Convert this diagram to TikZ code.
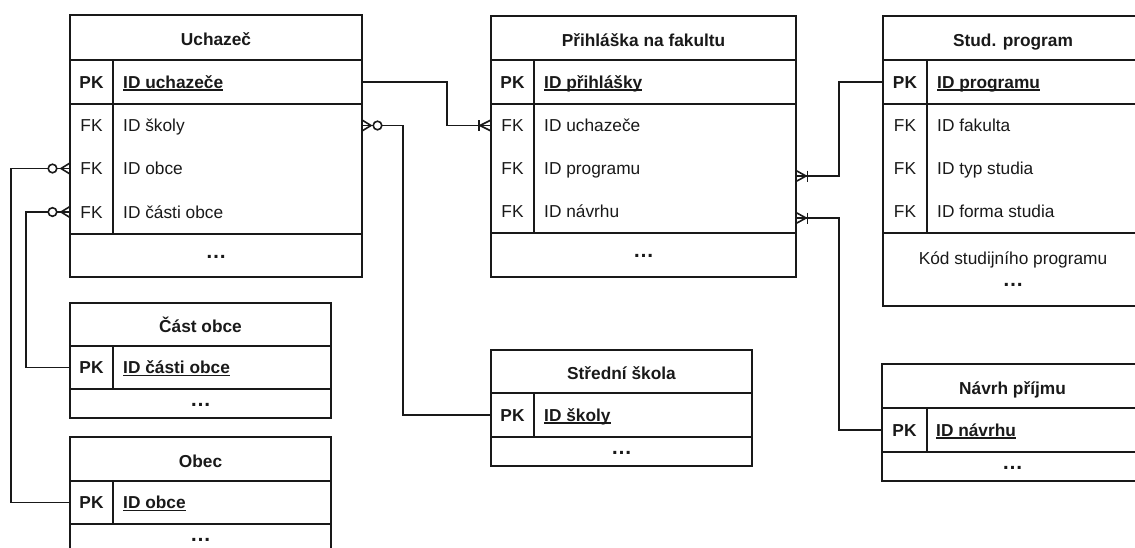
\documentclass[tikz,border=0pt]{standalone}
\usepackage{fontspec}
\setmainfont{Liberation Sans}
\newcommand\pkul[1]{\setbox0\hbox{#1}\rlap{\rule[-2.6pt]{\wd0}{1.5pt}}\box0}
\begin{document}
\begin{tikzpicture}[x=1pt,y=-1pt,
 frame/.style={draw=black!90, line width=1.6pt, inner sep=0pt, outer sep=0pt},
 conn/.style={draw=black!90, line width=1.6pt},
 rowbox/.style={inner sep=0pt, outer sep=0pt},
 every node/.style={font=\fontsize{17.3pt}{20pt}\selectfont, text=black!90},
 title/.style={font=\fontsize{17.3pt}{20pt}\selectfont\bfseries, text height=16.4pt, text depth=0pt},
 keytxt/.style={inner sep=0pt, text height=12.4pt, text depth=0pt},
 pkkey/.style={keytxt, font=\fontsize{17.3pt}{20pt}\selectfont\bfseries},
 attr/.style={keytxt, anchor=west},
 pkattr/.style={attr, font=\fontsize{17.3pt}{20pt}\selectfont\bfseries},
 dotstxt/.style={inner sep=0pt, font=\fontsize{21pt}{24pt}\selectfont\bfseries, text height=5pt, text depth=0pt}
]
\useasboundingbox (0,0) rectangle (1135,547);
\clip (0,0) rectangle (1135,547);

% ---------- Uchazec ----------
\node[frame,title,minimum width=292pt,minimum height=45pt] (uHead) at (216,37.5) {Uchazeč};
\node[frame,minimum width=292pt,minimum height=44pt] (uPK) at (216,82) {};
\node[frame,minimum width=292pt,minimum height=130pt] (uFK) at (216,169) {};
\node[frame,dotstxt,minimum width=292pt,minimum height=43pt] (uDots) at (216,255.5) {…};
\draw[conn] ([xshift=43pt]uPK.north west) -- ([xshift=43pt]uFK.south west);
\node[rowbox,minimum width=292pt,minimum height=43pt] (uR1) at (216,125.5) {};
\node[rowbox,minimum width=292pt,minimum height=43pt] (uR2) at (216,168.5) {};
\node[rowbox,minimum width=292pt,minimum height=43pt] (uR3) at (216,212) {};
\node[pkkey] (uPKk) at (91.5,82) {PK};
\node[pkattr] (uPKn) at (123,82) {\pkul{ID uchazeče}};
\node[keytxt] (uK1) at (91.5,125.5) {FK};
\node[attr] (uA1) at (123,125.5) {ID školy};
\node[keytxt] (uK2) at (91.5,168.5) {FK};
\node[attr] (uA2) at (123,168.5) {ID obce};
\node[keytxt] (uK3) at (91.5,212) {FK};
\node[attr] (uA3) at (123,212) {ID části obce};

% ---------- Prihlaska ----------
\node[frame,title,minimum width=305pt,minimum height=44pt] (pHead) at (643.5,38) {Přihláška na fakultu};
\node[frame,minimum width=305pt,minimum height=44pt] (pPK) at (643.5,82) {};
\node[frame,minimum width=305pt,minimum height=129pt] (pFK) at (643.5,168.5) {};
\node[frame,dotstxt,minimum width=305pt,minimum height=44pt] (pDots) at (643.5,255) {…};
\draw[conn] ([xshift=43pt]pPK.north west) -- ([xshift=43pt]pFK.south west);
\node[rowbox,minimum width=305pt,minimum height=43pt] (pR1) at (643.5,125.5) {};
\node[rowbox,minimum width=305pt,minimum height=43pt] (pR2) at (643.5,168.5) {};
\node[rowbox,minimum width=305pt,minimum height=43pt] (pR3) at (643.5,211.5) {};
\node[pkkey] (pPKk) at (512.5,82) {PK};
\node[pkattr] (pPKn) at (544,82) {\pkul{ID přihlášky}};
\node[keytxt] (pK1) at (512.5,125.5) {FK};
\node[attr] (pA1) at (544,125.5) {ID uchazeče};
\node[keytxt] (pK2) at (512.5,168.5) {FK};
\node[attr] (pA2) at (544,168.5) {ID programu};
\node[keytxt] (pK3) at (512.5,211.5) {FK};
\node[attr] (pA3) at (544,211.5) {ID návrhu};

% ---------- Stud. program ----------
\node[frame,title,minimum width=260pt,minimum height=44pt] (sdHead) at (1013,38) {Stud. program};
\node[frame,minimum width=260pt,minimum height=44pt] (sdPK) at (1013,82) {};
\node[frame,minimum width=260pt,minimum height=129pt] (sdFK) at (1013,168.5) {};
\node[frame,minimum width=260pt,minimum height=73pt] (sdBot) at (1013,269.5) {};
\draw[conn] ([xshift=44pt]sdPK.north west) -- ([xshift=44pt]sdFK.south west);
\node[pkkey] (sdPKk) at (905,82) {PK};
\node[pkattr] (sdPKn) at (937,82) {\pkul{ID programu}};
\node[keytxt] (sdK1) at (905,125.5) {FK};
\node[attr] (sdA1) at (937,125.5) {ID fakulta};
\node[keytxt] (sdK2) at (905,168.5) {FK};
\node[attr] (sdA2) at (937,168.5) {ID typ studia};
\node[keytxt] (sdK3) at (905,211.5) {FK};
\node[attr] (sdA3) at (937,211.5) {ID forma studia};
\node[keytxt] (sdKod) at (1013,258) {Kód studijního programu};
\node[dotstxt] (sdDots) at (1013,284) {…};

% ---------- Cast obce ----------
\node[frame,title,minimum width=261pt,minimum height=43pt] (cHead) at (200.5,324.5) {Část obce};
\node[frame,minimum width=261pt,minimum height=43pt] (cPK) at (200.5,367.5) {};
\node[frame,dotstxt,minimum width=261pt,minimum height=29pt] (cDots) at (200.5,403.5) {…};
\draw[conn] ([xshift=43pt]cPK.north west) -- ([xshift=43pt]cPK.south west);
\node[pkkey] (cPKk) at (91.5,367.5) {PK};
\node[pkattr] (cPKn) at (123,367.5) {\pkul{ID části obce}};

% ---------- Obec ----------
\node[frame,title,minimum width=261pt,minimum height=44pt] (oHead) at (200.5,459) {Obec};
\node[frame,minimum width=261pt,minimum height=43pt] (oPK) at (200.5,502.5) {};
\node[frame,dotstxt,minimum width=261pt,minimum height=29pt] (oDots) at (200.5,538.5) {…};
\draw[conn] ([xshift=43pt]oPK.north west) -- ([xshift=43pt]oPK.south west);
\node[pkkey] (oPKk) at (91.5,502.5) {PK};
\node[pkattr] (oPKn) at (123,502.5) {\pkul{ID obce}};

% ---------- Stredni skola ----------
\node[frame,title,minimum width=261pt,minimum height=43pt] (stHead) at (621.5,371.5) {Střední škola};
\node[frame,minimum width=261pt,minimum height=44pt] (stPK) at (621.5,415) {};
\node[frame,dotstxt,minimum width=261pt,minimum height=29pt] (stDots) at (621.5,451.5) {…};
\draw[conn] ([xshift=43pt]stPK.north west) -- ([xshift=43pt]stPK.south west);
\node[pkkey] (stPKk) at (512.5,415) {PK};
\node[pkattr] (stPKn) at (544,415) {\pkul{ID školy}};

% ---------- Navrh prijmu ----------
\node[frame,title,minimum width=261pt,minimum height=44pt] (nHead) at (1012.5,386) {Návrh příjmu};
\node[frame,minimum width=261pt,minimum height=44pt] (nPK) at (1012.5,430) {};
\node[frame,dotstxt,minimum width=261pt,minimum height=29pt] (nDots) at (1012.5,466.5) {…};
\draw[conn] ([xshift=45pt]nPK.north west) -- ([xshift=45pt]nPK.south west);
\node[pkkey] (nPKk) at (904.5,430) {PK};
\node[pkattr] (nPKn) at (936,430) {\pkul{ID návrhu}};

% ---------- connectors ----------
% Uchazec PK -> Prihlaska ID uchazece
\draw[conn] (uPK.east) -- ++(85,0) |- (pR1.west);
\draw[conn] ([shift={(-12,-5.5)}]pR1.west) -- ([shift={(-12,5.5)}]pR1.west);
\draw[conn] ([shift={(0,-5.5)}]pR1.west) -- ([shift={(-11,0)}]pR1.west) -- ([shift={(0,5.5)}]pR1.west);

% Uchazec ID skoly -> Stredni skola
\draw[conn] (uR1.east) -- ++(41,0) |- (stPK.west);
\draw[conn] ([shift={(0,-5.5)}]uR1.east) -- ([shift={(9,0)}]uR1.east) -- ([shift={(0,5.5)}]uR1.east);
\draw[conn,fill=white] ([shift={(15.5,0)}]uR1.east) circle[radius=4.3pt];

% Uchazec ID obce -> Obec
\draw[conn] (uR2.west) -- ++(-59,0) |- (oPK.west);
\draw[conn] ([shift={(0,-5.5)}]uR2.west) -- ([shift={(-9,0)}]uR2.west) -- ([shift={(0,5.5)}]uR2.west);
\draw[conn,fill=white] ([shift={(-17.5,0)}]uR2.west) circle[radius=4.3pt];

% Uchazec ID casti obce -> Cast obce
\draw[conn] (uR3.west) -- ++(-44,0) |- (cPK.west);
\draw[conn] ([shift={(0,-5.5)}]uR3.west) -- ([shift={(-9,0)}]uR3.west) -- ([shift={(0,5.5)}]uR3.west);
\draw[conn,fill=white] ([shift={(-17.5,0)}]uR3.west) circle[radius=4.3pt];

% Prihlaska ID programu -> Stud. program
\coordinate (c5) at ([yshift=-7.5pt]pR2.east);
\draw[conn] (c5) -- ++(43,0) |- (sdPK.west);
\draw[conn] ([shift={(0,-5.5)}]c5) -- ([shift={(10,0)}]c5) -- ([shift={(0,5.5)}]c5);
\draw[conn] ([shift={(11.5,-5.5)}]c5) -- ([shift={(11.5,5.5)}]c5);

% Prihlaska ID navrhu -> Navrh prijmu
\coordinate (c6) at ([yshift=-6.5pt]pR3.east);
\draw[conn] (c6) -- ++(43,0) |- (nPK.west);
\draw[conn] ([shift={(0,-5.5)}]c6) -- ([shift={(10,0)}]c6) -- ([shift={(0,5.5)}]c6);
\draw[conn] ([shift={(11.5,-5.5)}]c6) -- ([shift={(11.5,5.5)}]c6);
\end{tikzpicture}
\end{document}
